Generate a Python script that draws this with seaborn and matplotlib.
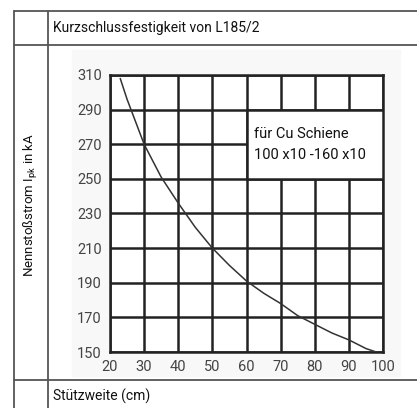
import pandas as pd
import seaborn as sns
import matplotlib.pyplot as plt
import numpy as np
from matplotlib.lines import Line2D
from matplotlib.patches import Rectangle

# values
spannweite = [23, 25, 30, 35, 40, 45, 50, 55, 60, 65, 70, 75, 80, 85, 90, 95, 98]
nennstrom = [308, 296, 270, 251, 236, 222, 210, 200, 191, 184, 178, 171, 166, 161, 157, 152, 150]
x_ticks = [20, 30, 40, 50, 60, 70, 80, 90, 100]
y_ticks = [150, 170, 190, 210, 230, 250, 270, 290, 310]

title_text = "Kurzschlussfestigkeit von L185/2"
xlabel_text = "Stützweite (cm)"
ylabel_text = "Nennstoßstrom I$_{\\mathregular{pk}}$ in kA"
box_text = "für Cu Schiene\n100 x10 -160 x10"

df = pd.DataFrame({"x": spannweite, "y": nennstrom})

sns.set_style("white")
plt.rcParams["font.family"] = ["Roboto", "DejaVu Sans"]

W, H = 417, 408
fig = plt.figure(figsize=(W / 100, H / 100), dpi=100)

def fx(px):
    return px / W

def fy(py):
    return 1 - py / H

# faint scan background
fig.add_artist(Rectangle((fx(72), fy(376)), fx(400) - fx(72), fy(50) - fy(376),
                         transform=fig.transFigure, color="#f8f8f8", zorder=0))

ax = fig.add_axes([fx(110), fy(352), fx(383) - fx(110), fy(75) - fy(352)])
ax.set_facecolor("white")
sns.lineplot(data=df, x="x", y="y", ax=ax, color="#333333", linewidth=1.1, zorder=5)

ax.set_xlim(20, 100)
ax.set_ylim(150, 310)
ax.set_xticks(x_ticks)
ax.set_yticks(y_ticks)
ax.grid(True, color="#222222", linewidth=1.8)
ax.set_axisbelow(True)
for s in ax.spines.values():
    s.set_color("#222222")
    s.set_linewidth(1.8)
ax.tick_params(length=0, labelsize=10.5, colors="#444444", pad=6)
ax.set_xlabel("")
ax.set_ylabel("")

# white box over the grid
ax.add_patch(Rectangle((60, 250), 40, 40, facecolor="white", edgecolor="#222222",
                       linewidth=1.8, zorder=3))
ax.text(62.2, 270, box_text, fontsize=10.5, va="center", ha="left",
        color="#111111", linespacing=1.6, zorder=6)

# table lines
lc = "#555555"
lw = 1.3
for (x0, y0, x1, y1) in [(14, 11, 417, 11), (14, 45, 417, 45), (14, 380, 417, 380),
                         (14, 11, 14, 408), (48, 11, 48, 408)]:
    fig.add_artist(Line2D([fx(x0), fx(x1)], [fy(y0), fy(y1)], transform=fig.transFigure,
                          color=lc, linewidth=lw))

fig.text(fx(53), fy(28), title_text, fontsize=10, va="center", ha="left", color="#111111")
fig.text(fx(53), fy(396), xlabel_text, fontsize=10, va="center", ha="left", color="#111111")
fig.text(fx(31), fy(205), ylabel_text, fontsize=9.5, va="center", ha="center",
         rotation=90, color="#111111")

fig.savefig("out.png", dpi=100)
